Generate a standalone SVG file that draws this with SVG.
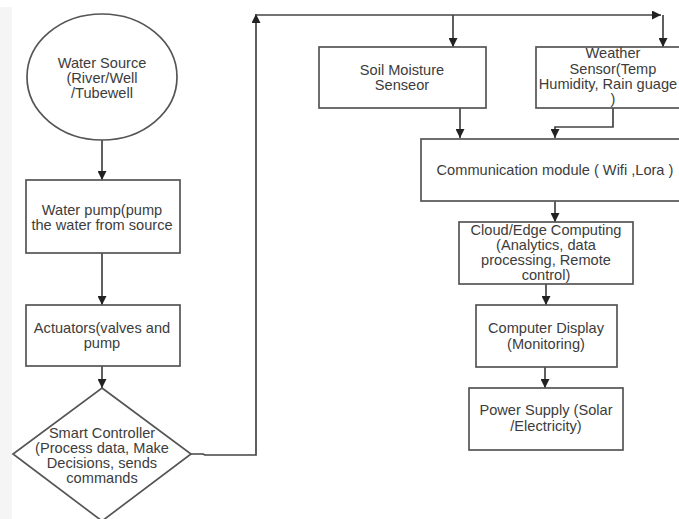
<svg xmlns="http://www.w3.org/2000/svg" width="679" height="519" viewBox="0 0 679 519">
<defs>
<style>
.n{fill:none;stroke:#555;stroke-width:1.7}
.c{fill:none;stroke:#444;stroke-width:1.7}
text{font-family:"Liberation Sans",Arial,sans-serif;font-size:14.6px;fill:#3c3c3c;text-anchor:middle}
</style>
<marker id="ah" viewBox="0 0 10 10" refX="10" refY="5" markerWidth="9" markerHeight="9" markerUnits="userSpaceOnUse" orient="auto">
<path d="M0,0 L10,5 L0,10 z" fill="#222"/>
</marker>
</defs>
<rect x="0" y="0" width="679" height="519" fill="#ffffff"/>
<rect x="0" y="7" width="12" height="512" fill="#f5f5f5"/>

<g id="connectors">
<path class="c" d="M102,140 V180" marker-end="url(#ah)"/>
<path class="c" d="M102,253 V305" marker-end="url(#ah)"/>
<path class="c" d="M102,366 V388" marker-end="url(#ah)"/>
<path class="c" d="M191,454 H203 L205,455 H256 V14" marker-end="url(#ah)"/>
<path class="c" d="M256,15 H661" marker-end="url(#ah)"/>
<path class="c" d="M663,15 V47" marker-end="url(#ah)"/>
<path class="c" d="M453,15 V47" marker-end="url(#ah)"/>
<path class="c" d="M460,108 V138" marker-end="url(#ah)"/>
<path class="c" d="M613,108 V127 H555 V138" marker-end="url(#ah)"/>
<path class="c" d="M555,201 V222" marker-end="url(#ah)"/>
<path class="c" d="M546,284 V305" marker-end="url(#ah)"/>
<path class="c" d="M545,367 V388" marker-end="url(#ah)"/>
</g>

<g id="water-source">
<ellipse class="n" cx="102" cy="77" rx="75" ry="63"/>
<text x="102" y="68">Water Source</text>
<text x="102" y="83">(River/Well</text>
<text x="102" y="98">/Tubewell</text>
</g>

<g id="water-pump">
<rect class="n" x="26" y="180" width="154" height="73"/>
<text x="102" y="215">Water pump(pump</text>
<text x="102" y="230">the water from source</text>
</g>

<g id="actuators">
<rect class="n" x="26" y="305" width="154" height="61"/>
<text x="102" y="333">Actuators(valves and</text>
<text x="102" y="348">pump</text>
</g>

<g id="smart-controller">
<path class="n" d="M102,388 L191,454 L102,521 L13,454 Z"/>
<text x="102" y="438">Smart Controller</text>
<text x="102" y="453">(Process data, Make</text>
<text x="102" y="468">Decisions, sends</text>
<text x="102" y="483">commands</text>
</g>

<g id="soil-moisture">
<rect class="n" x="319" y="47" width="167" height="61"/>
<text x="402" y="75">Soil Moisture</text>
<text x="402" y="90">Senseor</text>
</g>

<g id="weather-sensor">
<rect class="n" x="536" y="47" width="150" height="61"/>
<text x="613" y="58">Weather</text>
<text x="613" y="74">Sensor(Temp</text>
<text x="608" y="89">Humidity, Rain guage</text>
<text x="613" y="104">)</text>
</g>

<g id="communication-module">
<rect class="n" x="421" y="139" width="262" height="62"/>
<text x="555" y="175">Communication module ( Wifi ,Lora )</text>
</g>

<g id="cloud-edge">
<rect class="n" x="459" y="222" width="174" height="62"/>
<text x="546" y="235">Cloud/Edge Computing</text>
<text x="546" y="250">(Analytics, data</text>
<text x="546" y="265">processing, Remote</text>
<text x="546" y="280">control)</text>
</g>

<g id="computer-display">
<rect class="n" x="476" y="305" width="141" height="62"/>
<text x="546" y="333">Computer Display</text>
<text x="546" y="349">(Monitoring)</text>
</g>

<g id="power-supply">
<rect class="n" x="469" y="388" width="154" height="62"/>
<text x="546" y="415">Power Supply (Solar</text>
<text x="546" y="431">/Electricity)</text>
</g>
</svg>
